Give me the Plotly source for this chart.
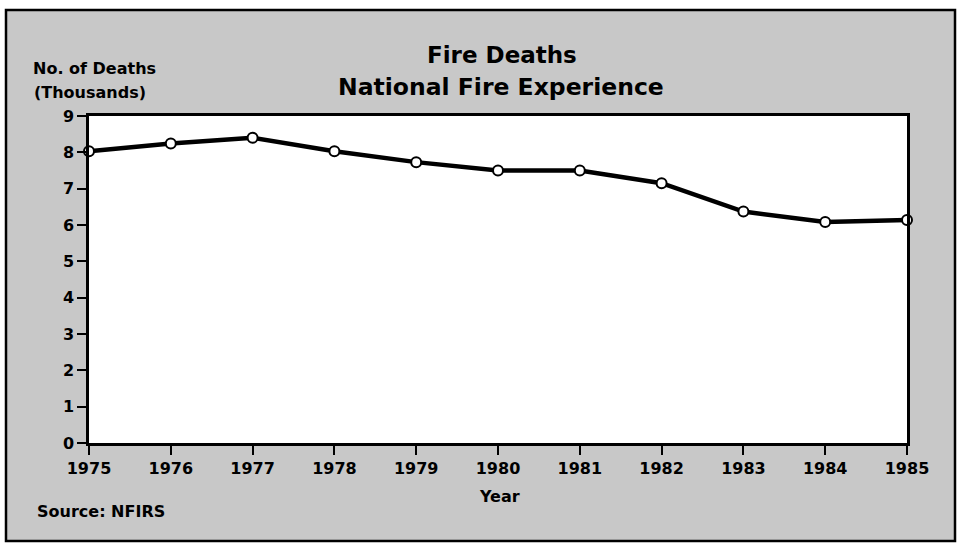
import plotly.graph_objects as go

years = [1975, 1976, 1977, 1978, 1979, 1980, 1981, 1982, 1983, 1984, 1985]
deaths_thousands = [8.03, 8.24, 8.40, 8.03, 7.73, 7.50, 7.50, 7.15, 6.37, 6.08, 6.14]
y_ticks = [0, 1, 2, 3, 4, 5, 6, 7, 8, 9]

W, H = 961, 545
L, R, T, B = 89, 54, 116, 102
PW, PH = W - L - R, H - T - B


def px(x):
    return (x - L) / PW


def py(y):
    return (H - B - y) / PH


FONT = dict(family="DejaVu Sans", color="black", weight="bold")

fig = go.Figure()
fig.add_trace(go.Scatter(
    x=years, y=deaths_thousands, mode="lines+markers",
    line=dict(color="black", width=4.5),
    marker=dict(symbol="circle", size=10, color="white",
                line=dict(color="black", width=2)),
    cliponaxis=False, showlegend=False,
))

gray = "#c8c8c8"
ox0, ox1, oy0, oy1 = px(6), px(955), py(541), py(10)
frame_path = (f"M {ox0},{oy0} L {ox1},{oy0} L {ox1},{oy1} L {ox0},{oy1} Z "
              f"M 0,0 L 1,0 L 1,1 L 0,1 Z")
shapes = [
    dict(type="path", xref="paper", yref="paper", path=frame_path,
         fillcolor=gray, fillrule="evenodd", line=dict(width=0), layer="below"),
    dict(type="rect", xref="paper", yref="paper", x0=ox0, x1=ox1, y0=oy0, y1=oy1,
         line=dict(color="black", width=2.5), fillcolor="rgba(0,0,0,0)", layer="above"),
]

annotations = [
    dict(text="Fire Deaths", x=px(502), y=py(55), xref="paper", yref="paper",
         showarrow=False, xanchor="center", yanchor="middle",
         font=dict(FONT, size=23)),
    dict(text="National Fire Experience", x=px(501), y=py(87), xref="paper", yref="paper",
         showarrow=False, xanchor="center", yanchor="middle",
         font=dict(FONT, size=23.5)),
    dict(text="No. of Deaths", x=px(31), y=py(69), xref="paper", yref="paper",
         showarrow=False, xanchor="left", yanchor="middle",
         font=dict(FONT, size=16)),
    dict(text="(Thousands)", x=px(32), y=py(93), xref="paper", yref="paper",
         showarrow=False, xanchor="left", yanchor="middle",
         font=dict(FONT, size=16)),
    dict(text="Year", x=px(500), y=py(497), xref="paper", yref="paper",
         showarrow=False, xanchor="center", yanchor="middle",
         font=dict(FONT, size=16)),
    dict(text="Source: NFIRS", x=px(35), y=py(511), xref="paper", yref="paper",
         showarrow=False, xanchor="left", yanchor="middle",
         font=dict(FONT, size=16)),
]

fig.update_layout(
    width=W, height=H,
    margin=dict(l=L, r=R, t=T, b=B),
    paper_bgcolor="white",
    plot_bgcolor="white",
    shapes=shapes,
    annotations=annotations,
    xaxis=dict(range=[1975, 1985], tickvals=years, ticktext=[str(y) for y in years],
               ticks="outside", ticklen=9, tickwidth=2, tickcolor="black",
               showline=True, linecolor="black", linewidth=2.5, mirror=True,
               showgrid=False, zeroline=False, tickfont=dict(FONT, size=16)),
    yaxis=dict(range=[0, 9], tickvals=y_ticks,
               ticks="outside", ticklen=9, tickwidth=2, tickcolor="black",
               showline=True, linecolor="black", linewidth=2.5, mirror=True,
               showgrid=False, zeroline=False, tickfont=dict(FONT, size=16)),
)

fig.write_html("out.html", config={"displayModeBar": False},
               post_script="document.body.style.margin='0';")
